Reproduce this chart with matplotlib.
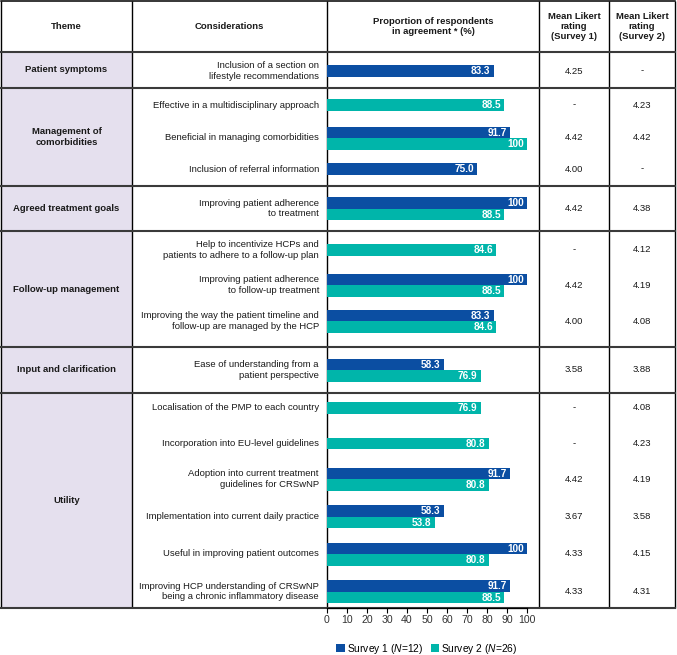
import numpy as np
import matplotlib.pyplot as plt
from matplotlib.patches import Rectangle

plt.rcParams["font.family"] = ["Liberation Sans", "DejaVu Sans"]
plt.rcParams["mathtext.fontset"] = "custom"
plt.rcParams["mathtext.rm"] = "Liberation Sans"
plt.rcParams["mathtext.it"] = "Liberation Sans:italic"

# ============================================================
# DATA
# ============================================================

themes = [
    "Patient symptoms",
    "Management of\ncomorbidities",
    "Agreed treatment goals",
    "Follow-up management",
    "Input and clarification",
    "Utility",
]
theme_sizes = [1, 3, 1, 3, 1, 6]

considerations = [
    "Inclusion of a section on\nlifestyle recommendations",
    "Effective in a multidisciplinary approach",
    "Beneficial in managing comorbidities",
    "Inclusion of referral information",
    "Improving patient adherence\nto treatment",
    "Help to incentivize HCPs and\npatients to adhere to a follow-up plan",
    "Improving patient adherence\nto follow-up treatment",
    "Improving the way the patient timeline and\nfollow-up are managed by the HCP",
    "Ease of understanding from a\npatient perspective",
    "Localisation of the PMP to each country",
    "Incorporation into EU-level guidelines",
    "Adoption into current treatment\nguidelines for CRSwNP",
    "Implementation into current daily practice",
    "Useful in improving patient outcomes",
    "Improving HCP understanding of CRSwNP\nbeing a chronic inflammatory disease",
]

survey1 = [83.3, None, 91.7, 75.0, 100, None, 100, 83.3, 58.3,
           None, None, 91.7, 58.3, 100, 91.7]
survey2 = [None, 88.5, 100, None, 88.5, 84.6, 88.5, 84.6, 76.9,
           76.9, 80.8, 80.8, 53.8, 80.8, 88.5]

likert1 = ["4.25", "-", "4.42", "4.00", "4.42", "-", "4.42", "4.00", "3.58",
           "-", "-", "4.42", "3.67", "4.33", "4.33"]
likert2 = ["-", "4.23", "4.42", "-", "4.38", "4.12", "4.19", "4.08", "3.88",
           "4.08", "4.23", "4.19", "3.58", "4.15", "4.31"]

x_ticks = list(range(0, 101, 10))

headers = [
    "Theme",
    "Considerations",
    "Proportion of respondents\nin agreement * (%)",
    "Mean Likert\nrating\n(Survey 1)",
    "Mean Likert\nrating\n(Survey 2)",
]
legend_labels = [r"Survey 1 ($\it{N}$=12)", r"Survey 2 ($\it{N}$=26)"]

# ============================================================
# LAYOUT (pixels)
# ============================================================

W, H = 677, 655
col_x = [1, 132, 327, 539, 609, 675]
top_y = 1
group_edges = [52, 88, 186, 231, 347, 393, 608]
row_centers = np.array([71, 105, 138, 169, 208.7, 250, 285, 321, 370,
                        408, 443.5, 479, 516.5, 554, 591.7])
bar_h = 11.5

BLUE = "#0B4EA2"
TEAL = "#00B5AA"
LAVENDER = "#E5E0EE"
TEXT = "#1a1a1a"
FS = 6.8

fig = plt.figure(figsize=(W / 100, H / 100), dpi=100)

# ============================================================
# TABLE FRAME AND TEXT
# ============================================================

tab = fig.add_axes([0, 0, 1, 1])
tab.set_xlim(0, W)
tab.set_ylim(H, 0)
tab.axis("off")

tab.add_patch(Rectangle((col_x[0], group_edges[0]), col_x[1] - col_x[0],
                        group_edges[-1] - group_edges[0],
                        facecolor=LAVENDER, edgecolor="none", zorder=0))

for x in col_x:
    tab.plot([x, x], [top_y, group_edges[-1]], color="black", lw=1.0,
             solid_capstyle="butt", zorder=3)
tab.plot([col_x[0], col_x[-1]], [top_y, top_y], color="black", lw=1.1, zorder=3)
for y in group_edges:
    tab.plot([col_x[0], col_x[-1]], [y, y], color="#3a3a3a", lw=1.5, zorder=3)

header_y = (top_y + group_edges[0]) / 2
for i, h in enumerate(headers):
    xc = (col_x[i] + col_x[i + 1]) / 2
    tab.text(xc, header_y, h, ha="center", va="center", fontsize=FS,
             fontweight="bold", color=TEXT, linespacing=1.15)

for g, t in enumerate(themes):
    yc = (group_edges[g] + group_edges[g + 1]) / 2
    tab.text((col_x[0] + col_x[1]) / 2, yc, t, ha="center", va="center",
             fontsize=FS, fontweight="bold", color=TEXT, linespacing=1.2)

for i, c in enumerate(considerations):
    tab.text(col_x[2] - 8, row_centers[i], c, ha="right", va="center",
             fontsize=FS, color=TEXT, linespacing=1.15)
    tab.text((col_x[3] + col_x[4]) / 2, row_centers[i], likert1[i],
             ha="center", va="center", fontsize=FS, color=TEXT)
    tab.text((col_x[4] + col_x[5]) / 2, row_centers[i], likert2[i],
             ha="center", va="center", fontsize=FS, color=TEXT)

# ============================================================
# BARS
# ============================================================

bx = fig.add_axes([col_x[2] / W, 1 - group_edges[-1] / H,
                   (col_x[3] - col_x[2]) / W,
                   (group_edges[-1] - group_edges[0]) / H])
bx.set_xlim(0, 106)
bx.set_ylim(group_edges[-1], group_edges[0])
bx.patch.set_alpha(0)
for s in ["top", "right", "left"]:
    bx.spines[s].set_visible(False)
bx.spines["bottom"].set_bounds(0, 100)
bx.spines["bottom"].set_linewidth(0.9)
bx.set_yticks([])
bx.set_xticks(x_ticks)
bx.tick_params(axis="x", length=3.5, width=0.8, labelsize=7.6, pad=1.5,
               labelcolor="#333333")

s1 = np.array([np.nan if v is None else v for v in survey1], dtype=float)
s2 = np.array([np.nan if v is None else v for v in survey2], dtype=float)
both = ~np.isnan(s1) & ~np.isnan(s2)
y1 = row_centers - np.where(both, bar_h / 2, 0)
y2 = row_centers + np.where(both, bar_h / 2, 0)
m1 = ~np.isnan(s1)
m2 = ~np.isnan(s2)

h1 = bx.barh(y1[m1], s1[m1], height=bar_h, color=BLUE)
h2 = bx.barh(y2[m2], s2[m2], height=bar_h, color=TEAL)


def fmt(v):
    return "100" if v == 100 else f"{v:.1f}"


for yy, vv in zip(np.r_[y1[m1], y2[m2]], np.r_[s1[m1], s2[m2]]):
    bx.text(vv - 1.6, yy + 0.3, fmt(vv), ha="right", va="center",
            fontsize=7.2, fontweight="bold", color="white")

fig.legend([h1, h2], legend_labels, loc="center",
           bbox_to_anchor=(427 / W, 1 - 649 / H), ncol=2, frameon=False,
           fontsize=7.4, handlelength=0.8, handleheight=0.8,
           handletextpad=0.2, columnspacing=0.8)

fig.savefig("out.png", dpi=100)
